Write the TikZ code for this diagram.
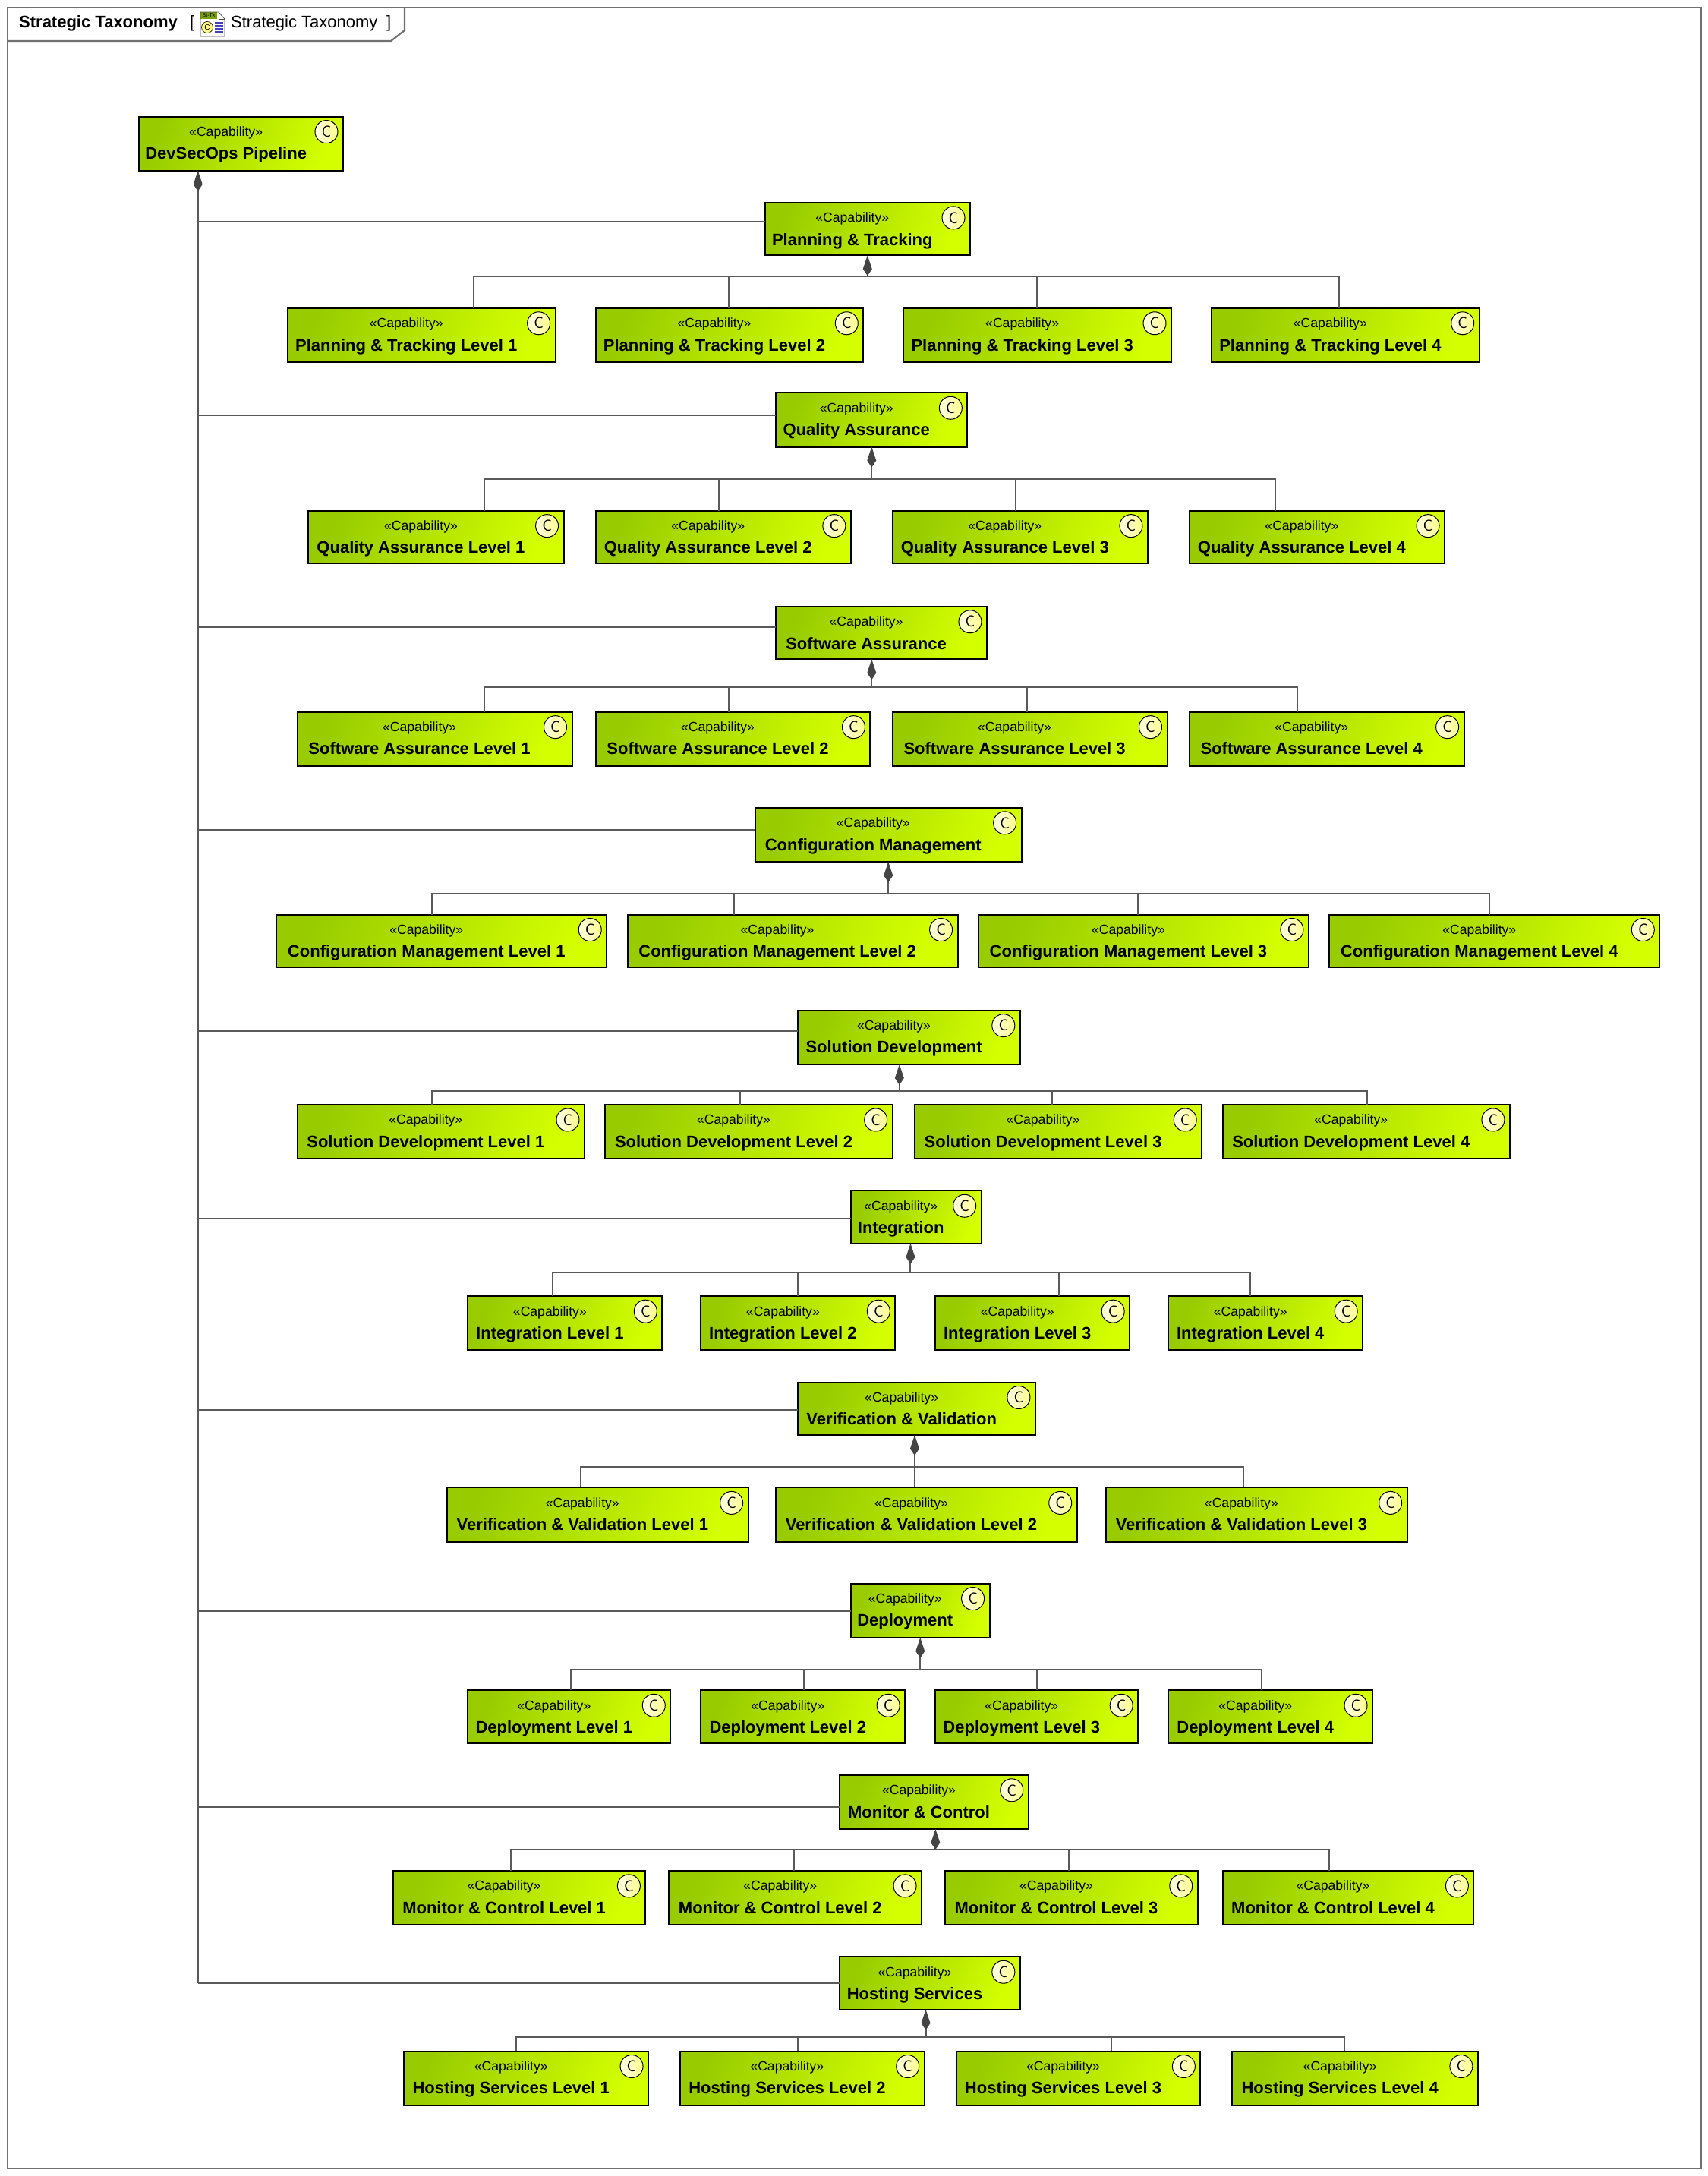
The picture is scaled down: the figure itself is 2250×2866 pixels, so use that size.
\documentclass[tikz,border=0pt]{standalone}
\usepackage{fontspec}
\setmainfont{Liberation Sans}
\usetikzlibrary{arrows.meta}
\definecolor{capdark}{HTML}{98CC00}
\definecolor{caplight}{HTML}{D4FF00}
\definecolor{linegray}{HTML}{5A5A5A}
\definecolor{diagray}{HTML}{444444}
\definecolor{framegray}{HTML}{707070}
\pgfdeclarehorizontalshading{capgrad}{100bp}{color(0bp)=(capdark); color(25bp)=(capdark); color(75bp)=(caplight); color(100bp)=(caplight)}
\def\KX{1.8275}
\def\KY{1.8278}
\def\XO{0.6}
\newcommand\capbox[6]{%
  \pgfmathsetmacro\bxa{#2*\KX+\XO}\pgfmathsetmacro\bya{#3*\KY}%
  \pgfmathsetmacro\bxb{#4*\KX+\XO}\pgfmathsetmacro\byb{#5*\KY}%
  \pgfmathsetmacro\bw{\bxb-\bxa}\pgfmathsetmacro\bh{\byb-\bya}%
  \pgfmathsetmacro\bcx{(\bxa+\bxb)/2}\pgfmathsetmacro\bcy{(\bya+\byb)/2}%
  \pgfmathsetmacro\tcx{\bxa+(\bw-40)/2}%
  \pgfmathsetmacro\tya{\bya+26}\pgfmathsetmacro\tyb{\bya+56.3}%
  \pgfmathsetmacro\icx{\bxb-22}\pgfmathsetmacro\icy{\bya+20}%
  \node[capshape,minimum width=\bw pt,minimum height=\bh pt] (#1) at (\bcx,\bcy) {};
  \node[captag] (#1s) at (\tcx,\tya) {«Capability»};
  \node[capname] (#1n) at (\tcx,\tyb) {#6};
  \node[capicon] (#1c) at (\icx,\icy) {C};
}
\newcommand\busat[3]{\coordinate (#1) at ({#2*\KX+\XO},{#3*\KY});}
\newcommand\ownlink[2]{\draw[conn,owner] (#1.south -| #2) -- (#2);}
\newcommand\droplink[3]{\coordinate (tmpd) at ({#2*\KX+\XO},0); \draw[conn] (#1.north -| tmpd) |- (#3);}
\newcommand\trunklink[2]{\coordinate (tmpt) at (0,{#2*\KY}); \draw[conn] (#1.west |- tmpt) -- (tmpt -| trunkx);}
\tikzset{
  capshape/.style={rectangle,draw=black,line width=2pt,inner sep=0pt,outer sep=0pt,shading=capgrad,shading angle=-20},
  captag/.style={anchor=base,inner sep=0pt,font=\fontsize{17.6}{20}\selectfont},
  capname/.style={anchor=base,inner sep=0pt,font=\fontsize{22}{24}\selectfont\bfseries},
  capicon/.style={circle,draw=black,line width=1pt,minimum size=30pt,inner sep=0pt,left color=yellow!10,right color=yellow!45,font=\fontsize{21}{22}\sffamily\selectfont},
  conn/.style={draw=linegray,line width=2pt},
  owner/.style={{Kite[length=27pt,width=12pt,inset=9pt,fill=diagray,color=diagray]}-},
  titletext/.style={anchor=base west,inner sep=0pt,font=\fontsize{22}{24}\selectfont},
}
\begin{document}
\begin{tikzpicture}[x=1pt,y=-1pt]
\useasboundingbox (0,0) rectangle (2250,2866);
\fill[white] (0,0) rectangle (2250,2866);
% frame
\draw[framegray,line width=2.2pt] (10,10) rectangle (2241,2856);
\draw[framegray,line width=2.2pt] (10,54) -- (515,54) -- (533,40) -- (533,10);
\node[titletext,font=\fontsize{22}{24}\selectfont\bfseries] (ttl) at (25,37) {Strategic Taxonomy};
\node[titletext] (brl) at (250,37) {[};
\node[titletext] (ttr) at (304,37) {Strategic Taxonomy};
\node[titletext] (brr) at (509,37) {]};
% icon
\fill[white] (264,16) -- (288,16) -- (296,25) -- (296,48) -- (264,48) -- cycle;
\fill[capdark!80!black] (264,16) rectangle (286,25);
\draw[black!70,line width=.8pt] (264,16) -- (288,16) -- (296,25) -- (296,48) -- (264,48) -- cycle;
\draw[black!70,line width=.8pt] (288,16) -- (288,25) -- (296,25);
\node[inner sep=0pt,font=\fontsize{7}{8}\selectfont] (icst) at (275,20.5) {St-Tx};
\node[circle,draw=black,fill=yellow!50,line width=.6pt,minimum size=15pt,inner sep=0pt,font=\fontsize{10}{10}\selectfont] (icc) at (273,36) {C};
\foreach \yy in {30,34,38,42}{\draw[blue!50!gray,line width=1.6pt] (283,\yy) -- (294,\yy);}
% root
\capbox{D}{100}{84}{247}{123}{DevSecOps Pipeline}
% planning
\capbox{A}{551}{146}{699}{184}{Planning \& Tracking}
\capbox{Aa}{207}{222}{400}{261}{Planning \& Tracking Level 1}
\capbox{Ab}{429}{222}{622}{261}{Planning \& Tracking Level 2}
\capbox{Ac}{651}{222}{844}{261}{Planning \& Tracking Level 3}
\capbox{Ad}{873}{222}{1066}{261}{Planning \& Tracking Level 4}
\busat{Abus}{625}{199}
\ownlink{A}{Abus}
\droplink{Aa}{341}{Abus}\droplink{Ab}{525}{Abus}\droplink{Ac}{747}{Abus}\droplink{Ad}{965}{Abus}
% QA
\capbox{B}{559}{283}{697}{322}{Quality Assurance}
\capbox{Ba}{222}{368}{406}{406}{Quality Assurance Level 1}
\capbox{Bb}{429}{368}{613}{406}{Quality Assurance Level 2}
\capbox{Bc}{643}{368}{827}{406}{Quality Assurance Level 3}
\capbox{Bd}{857}{368}{1041}{406}{Quality Assurance Level 4}
\busat{Bbus}{628}{345}
\ownlink{B}{Bbus}
\droplink{Ba}{349}{Bbus}\droplink{Bb}{518}{Bbus}\droplink{Bc}{732}{Bbus}\droplink{Bd}{919}{Bbus}
% SA
\capbox{C}{559}{437}{711}{475}{Software Assurance}
\capbox{Ca}{214}{513}{412}{552}{Software Assurance Level 1}
\capbox{Cb}{429}{513}{627}{552}{Software Assurance Level 2}
\capbox{Cc}{643}{513}{841}{552}{Software Assurance Level 3}
\capbox{Cd}{857}{513}{1055}{552}{Software Assurance Level 4}
\busat{Cbus}{628}{495}
\ownlink{C}{Cbus}
\droplink{Ca}{349}{Cbus}\droplink{Cb}{525}{Cbus}\droplink{Cc}{740}{Cbus}\droplink{Cd}{935}{Cbus}
% CM
\capbox{E}{544}{582}{736}{621}{Configuration Management}
\capbox{Ea}{199}{659}{437}{697}{Configuration Management Level 1}
\capbox{Eb}{452}{659}{690}{697}{Configuration Management Level 2}
\capbox{Ec}{705}{659}{943}{697}{Configuration Management Level 3}
\capbox{Ed}{958}{659}{1196}{697}{Configuration Management Level 4}
\busat{Ebus}{640}{644}
\ownlink{E}{Ebus}
\droplink{Ea}{311}{Ebus}\droplink{Eb}{529}{Ebus}\droplink{Ec}{820}{Ebus}\droplink{Ed}{1073}{Ebus}
% SD
\capbox{F}{575}{728}{735}{767}{Solution Development}
\capbox{Fa}{214}{796}{421}{835}{Solution Development Level 1}
\capbox{Fb}{436}{796}{643}{835}{Solution Development Level 2}
\capbox{Fc}{659}{796}{866}{835}{Solution Development Level 3}
\capbox{Fd}{881}{796}{1088}{835}{Solution Development Level 4}
\busat{Fbus}{648}{786}
\ownlink{F}{Fbus}
\droplink{Fa}{311}{Fbus}\droplink{Fb}{533}{Fbus}\droplink{Fc}{758}{Fbus}\droplink{Fd}{985}{Fbus}
% Integration
\capbox{G}{613}{858}{707}{896}{Integration}
\capbox{Ga}{337}{934}{477}{973}{Integration Level 1}
\capbox{Gb}{505}{934}{645}{973}{Integration Level 2}
\capbox{Gc}{674}{934}{814}{973}{Integration Level 3}
\capbox{Gd}{842}{934}{982}{973}{Integration Level 4}
\busat{Gbus}{656}{917}
\ownlink{G}{Gbus}
\droplink{Ga}{398}{Gbus}\droplink{Gb}{575}{Gbus}\droplink{Gc}{763}{Gbus}\droplink{Gd}{901}{Gbus}
% VV
\capbox{H}{575}{996}{746}{1034}{Verification \& Validation}
\capbox{Ha}{322}{1072}{539}{1111}{Verification \& Validation Level 1}
\capbox{Hb}{559}{1072}{776}{1111}{Verification \& Validation Level 2}
\capbox{Hc}{797}{1072}{1014}{1111}{Verification \& Validation Level 3}
\busat{Hbus}{659}{1057}
\ownlink{H}{Hbus}
\droplink{Ha}{418}{Hbus}\droplink{Hb}{659}{Hbus}\droplink{Hc}{896}{Hbus}
% Deployment
\capbox{I}{613}{1141}{713}{1180}{Deployment}
\capbox{Ia}{337}{1218}{483}{1256}{Deployment Level 1}
\capbox{Ib}{505}{1218}{652}{1256}{Deployment Level 2}
\capbox{Ic}{674}{1218}{820}{1256}{Deployment Level 3}
\capbox{Id}{842}{1218}{989}{1256}{Deployment Level 4}
\busat{Ibus}{663}{1203}
\ownlink{I}{Ibus}
\droplink{Ia}{411}{Ibus}\droplink{Ib}{579}{Ibus}\droplink{Ic}{747}{Ibus}\droplink{Id}{909}{Ibus}
% MC
\capbox{J}{605}{1279}{741}{1318}{Monitor \& Control}
\capbox{Ja}{283}{1348}{465}{1387}{Monitor \& Control Level 1}
\capbox{Jb}{482}{1348}{664}{1387}{Monitor \& Control Level 2}
\capbox{Jc}{681}{1348}{863}{1387}{Monitor \& Control Level 3}
\capbox{Jd}{881}{1348}{1062}{1387}{Monitor \& Control Level 4}
\busat{Jbus}{674}{1333}
\ownlink{J}{Jbus}
\droplink{Ja}{368}{Jbus}\droplink{Jb}{572}{Jbus}\droplink{Jc}{770}{Jbus}\droplink{Jd}{958}{Jbus}
% HS
\capbox{L}{605}{1410}{735}{1448}{Hosting Services}
\capbox{La}{291}{1478}{467}{1517}{Hosting Services Level 1}
\capbox{Lb}{490}{1478}{666}{1517}{Hosting Services Level 2}
\capbox{Lc}{689}{1478}{865}{1517}{Hosting Services Level 3}
\capbox{Ld}{888}{1478}{1065}{1517}{Hosting Services Level 4}
\busat{Lbus}{667}{1468}
\ownlink{L}{Lbus}
\droplink{La}{372}{Lbus}\droplink{Lb}{575}{Lbus}\droplink{Lc}{801}{Lbus}\droplink{Ld}{969}{Lbus}
% trunk
\coordinate (trunkx) at (260.7,0);
\coordinate (trunkend) at (260.7,{1429*\KY});
\draw[conn,owner,line width=2.8pt,draw=linegray] (D.south -| trunkx) -- (trunkend);
\trunklink{A}{160}\trunklink{B}{299}\trunklink{C}{452}\trunklink{E}{598}\trunklink{F}{743}
\trunklink{G}{878}\trunklink{H}{1016}\trunklink{I}{1161}\trunklink{J}{1302}\trunklink{L}{1429}
\end{tikzpicture}
\end{document}
